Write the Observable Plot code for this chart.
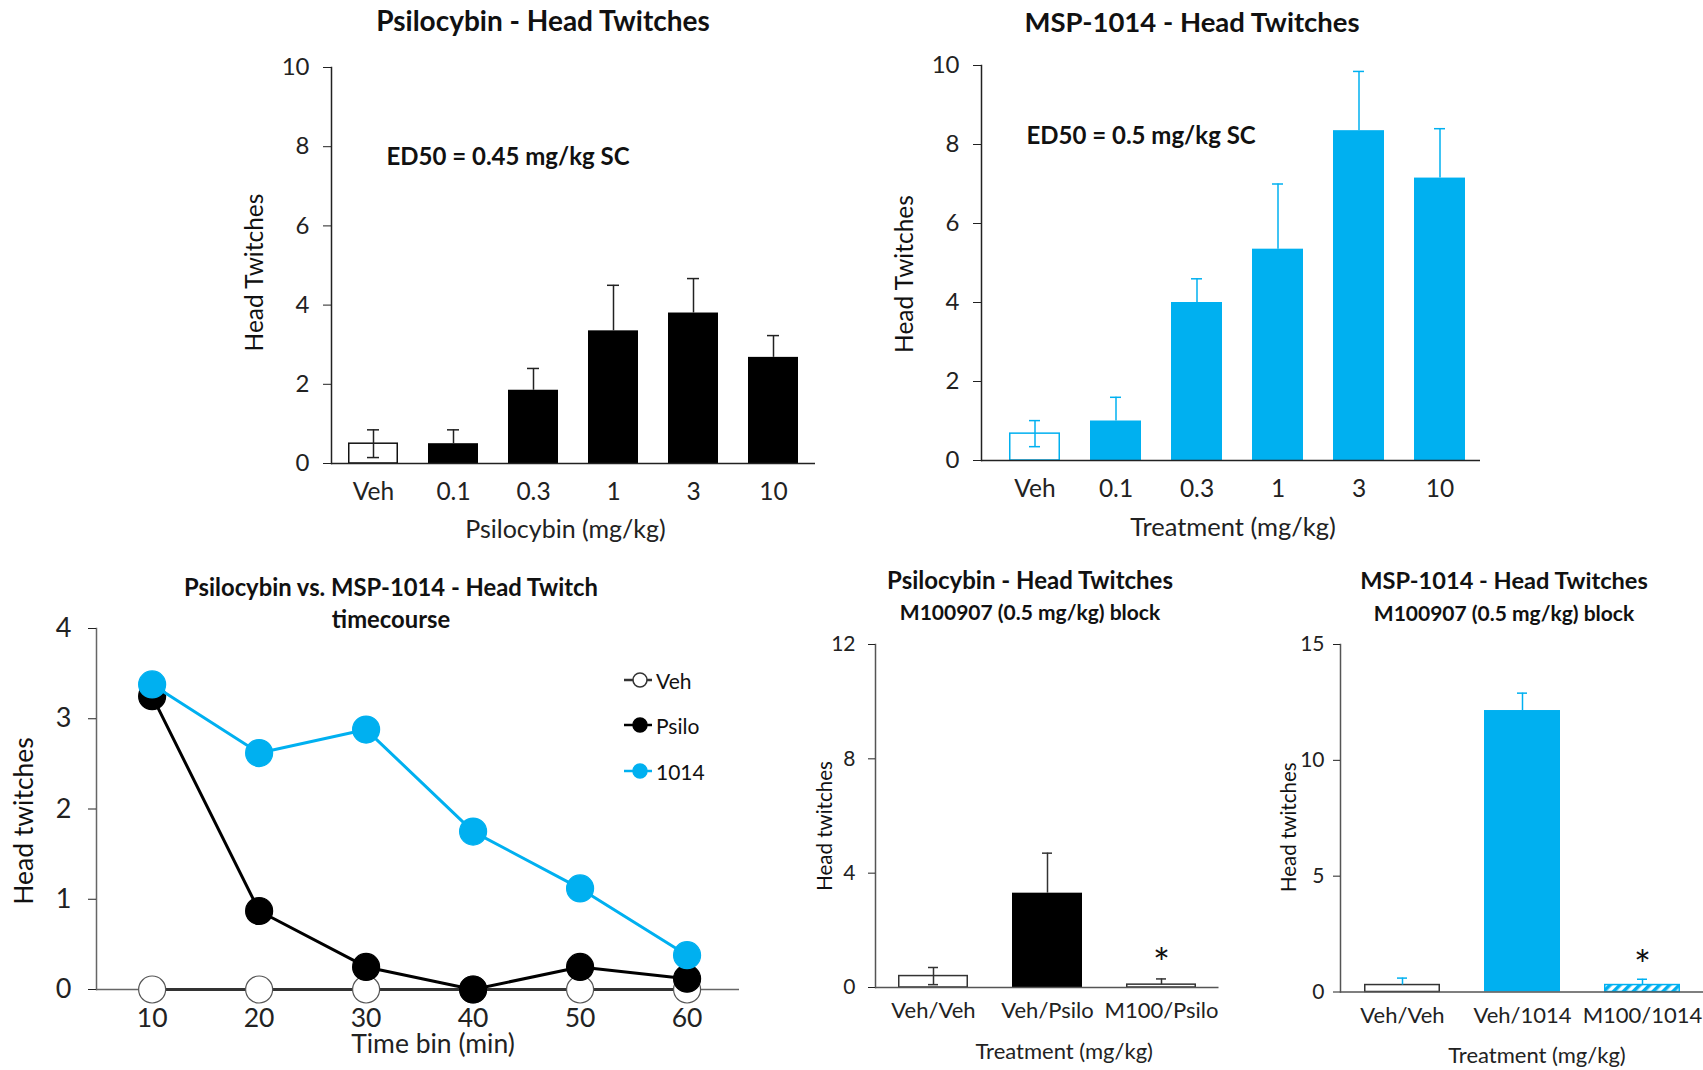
<!DOCTYPE html>
<html><head><meta charset="utf-8">
<script src="https://cdn.jsdelivr.net/npm/d3@7"></script>
<script src="https://cdn.jsdelivr.net/npm/@observablehq/plot@0.6"></script>
<style>
body{margin:0;background:#fff;width:1703px;height:1070px;position:relative;overflow:hidden;font-family:Lato,"Open Sans",sans-serif;color:#111;}
.panel{position:absolute;}
.title{position:absolute;font-weight:bold;white-space:nowrap;transform:translate(-50%,-50%);line-height:1;}
.leg{position:absolute;display:flex;align-items:center;font-size:21px;white-space:nowrap;}
</style></head><body>
<div class="title" style="left:543px;top:20px;font-size:28px">Psilocybin - Head Twitches</div>
<div class="title" style="left:1192px;top:22px;font-size:27.5px">MSP-1014 - Head Twitches</div>
<div class="title" style="left:391px;top:588px;font-size:23.8px">Psilocybin vs. MSP-1014 - Head Twitch</div>
<div class="title" style="left:391px;top:620px;font-size:23.8px">timecourse</div>
<div class="title" style="left:1030px;top:580px;font-size:24px">Psilocybin - Head Twitches</div>
<div class="title" style="left:1030px;top:611px;font-size:21px">M100907 (0.5 mg/kg) block</div>
<div class="title" style="left:1504px;top:581px;font-size:23.6px">MSP-1014 - Head Twitches</div>
<div class="title" style="left:1504px;top:612px;font-size:21px">M100907 (0.5 mg/kg) block</div>
<div id="p1" class="panel" style="left:220px;top:40px"></div>
<div id="p2" class="panel" style="left:860px;top:40px"></div>
<div id="p3" class="panel" style="left:0px;top:600px"></div>
<div id="p4" class="panel" style="left:790px;top:630px"></div>
<div id="p5" class="panel" style="left:1240px;top:630px"></div>
<div id="legend"></div>
<script>
// ---------- data ----------
const doseCategories = ["Veh", "0.1", "0.3", "1", "3", "10"];
const psiloMeans = [0.5, 0.5, 1.85, 3.35, 3.8, 2.68];
const psiloSem = [0.35, 0.35, 0.55, 1.15, 0.87, 0.55];
const msp1014Means = [0.68, 1.0, 4.0, 5.35, 8.35, 7.15];
const msp1014Sem = [0.33, 0.6, 0.6, 1.65, 1.5, 1.25];

const timeBins = [10, 20, 30, 40, 50, 60];
const tcVeh = [0, 0, 0, 0, 0, 0];
const tcPsilo = [3.25, 0.87, 0.25, 0, 0.25, 0.12];
const tc1014 = [3.38, 2.62, 2.88, 1.75, 1.12, 0.38];
const tcSeries = ["Veh", "Psilo", "1014"];

const psiloBlockCats = ["Veh/Veh", "Veh/Psilo", "M100/Psilo"];
const psiloBlockMeans = [0.4, 3.3, 0.1];
const psiloBlockSem = [0.3, 1.4, 0.2];
const psiloBlockSig = ["", "", "*"];

const mspBlockCats = ["Veh/Veh", "Veh/1014", "M100/1014"];
const mspBlockMeans = [0.3, 12.15, 0.3];
const mspBlockSem = [0.3, 0.75, 0.25];
const mspBlockSig = ["", "", "*"];

// ---------- style ----------
const BLUE = "#00B0F0";
const FONT = "Lato, 'Open Sans', sans-serif";

function rows(cats, means, sem, twoSided, sig) {
  return cats.map((c, i) => ({
    cat: c, mean: means[i],
    hi: means[i] + sem[i],
    lo: twoSided(c, i) ? means[i] - sem[i] : means[i],
    sig: sig ? sig[i] : ""
  }));
}

// ---------- Panel 1: Psilocybin dose response ----------
{
  const data = rows(doseCategories, psiloMeans, psiloSem, c => c === "Veh");
  const p = Plot.plot({
    width: 620, height: 520,
    marginLeft: 111, marginRight: 25, marginTop: 27, marginBottom: 97,
    style: {fontFamily: FONT, background: "transparent", overflow: "visible"},
    x: {domain: doseCategories, paddingInner: 0.377, paddingOuter: 0.206, axis: null},
    y: {domain: [0, 10], axis: null},
    marks: [
      Plot.barY(data, {x: "cat", y: "mean", filter: d => d.cat === "Veh", fill: "white", stroke: "#111", strokeWidth: 1.5, insetLeft: 0.75, insetRight: 0.75}),
      Plot.barY(data, {x: "cat", y: "mean", filter: d => d.cat !== "Veh", fill: "black"}),
      Plot.ruleX(data, {x: "cat", y1: "lo", y2: "hi", stroke: "#222", strokeWidth: 1.5}),
      Plot.tickY(data, {x: "cat", y: "hi", stroke: "#222", strokeWidth: 1.5, insetLeft: 19, insetRight: 19}),
      Plot.tickY(data, {x: "cat", y: "lo", filter: d => d.lo < d.mean, stroke: "#222", strokeWidth: 1.5, insetLeft: 19, insetRight: 19}),
      Plot.ruleY([0], {stroke: "#222", strokeWidth: 1.5}),
      Plot.frame({anchor: "left", stroke: "#222", strokeWidth: 1.5}),
      Plot.axisY({ticks: [0, 2, 4, 6, 8, 10], tickSize: 8, tickPadding: 14, fontSize: 24, color: "#222", label: null}),
      Plot.axisX({tickSize: 0, tickPadding: 19, fontSize: 24.5, color: "#222", label: null}),
      Plot.text(["Head Twitches"], {frameAnchor: "left", textAnchor: "middle", lineAnchor: "middle", rotate: -90, dx: -76, dy: 7, fontSize: 24.5, fill: "#111"}),
      Plot.text(["Psilocybin (mg/kg)"], {frameAnchor: "bottom", textAnchor: "middle", lineAnchor: "middle", dx: -8, dy: 66, fontSize: 25, fill: "#222"}),
      Plot.text(["ED50 = 0.45 mg/kg SC"], {frameAnchor: "top-left", textAnchor: "start", lineAnchor: "middle", dx: 55, dy: 90, fontSize: 24, fontWeight: "bold", fill: "#111"})
    ]
  });
  document.getElementById("p1").append(p);
}

// ---------- Panel 2: MSP-1014 dose response ----------
{
  const data = rows(doseCategories, msp1014Means, msp1014Sem, c => c === "Veh");
  const p = Plot.plot({
    width: 640, height: 520,
    marginLeft: 121, marginRight: 20, marginTop: 25, marginBottom: 100,
    style: {fontFamily: FONT, background: "transparent", overflow: "visible"},
    x: {domain: doseCategories, paddingInner: 0.376, paddingOuter: 0.246, align: 0.634, axis: null},
    y: {domain: [0, 10], axis: null},
    marks: [
      Plot.barY(data, {x: "cat", y: "mean", filter: d => d.cat === "Veh", fill: "white", stroke: BLUE, strokeWidth: 1.5, insetLeft: 0.75, insetRight: 0.75}),
      Plot.barY(data, {x: "cat", y: "mean", filter: d => d.cat !== "Veh", fill: BLUE}),
      Plot.ruleX(data, {x: "cat", y1: "lo", y2: "hi", stroke: BLUE, strokeWidth: 1.5}),
      Plot.tickY(data, {x: "cat", y: "hi", stroke: BLUE, strokeWidth: 1.5, insetLeft: 20, insetRight: 20}),
      Plot.tickY(data, {x: "cat", y: "lo", filter: d => d.lo < d.mean, stroke: BLUE, strokeWidth: 1.5, insetLeft: 20, insetRight: 20}),
      Plot.ruleY([0], {stroke: "#222", strokeWidth: 1.5}),
      Plot.frame({anchor: "left", stroke: "#222", strokeWidth: 1.5}),
      Plot.axisY({ticks: [0, 2, 4, 6, 8, 10], tickSize: 8, tickPadding: 14, fontSize: 24, color: "#222", label: null}),
      Plot.axisX({tickSize: 0, tickPadding: 19, fontSize: 24.5, color: "#222", label: null}),
      Plot.text(["Head Twitches"], {frameAnchor: "left", textAnchor: "middle", lineAnchor: "middle", rotate: -90, dx: -76, dy: 11, fontSize: 24.5, fill: "#111"}),
      Plot.text(["Treatment (mg/kg)"], {frameAnchor: "bottom", textAnchor: "middle", lineAnchor: "middle", dx: 2, dy: 67, fontSize: 25.5, fill: "#222"}),
      Plot.text(["ED50 = 0.5 mg/kg SC"], {frameAnchor: "top-left", textAnchor: "start", lineAnchor: "middle", dx: 45, dy: 71, fontSize: 24, fontWeight: "bold", fill: "#111"})
    ]
  });
  document.getElementById("p2").append(p);
}

// ---------- Panel 3: time course ----------
const strokeOf = {Veh: "#333", Psilo: "#000", "1014": BLUE};
const fillOf = {Veh: "white", Psilo: "#000", "1014": BLUE};
{
  const values = {Veh: tcVeh, Psilo: tcPsilo, "1014": tc1014};
  const data = tcSeries.flatMap(s => timeBins.map((t, i) => ({series: s, t, v: values[s][i]})));
  const marks = [
    Plot.frame({anchor: "left", stroke: "#666", strokeWidth: 1.5}),
    Plot.ruleY([0], {stroke: "#666", strokeWidth: 1.5}),
    Plot.axisY({ticks: [0, 1, 2, 3, 4], tickFormat: d3.format("d"), tickSize: 8, tickPadding: 17, fontSize: 27, color: "#222", label: null}),
    Plot.axisX({ticks: timeBins, tickFormat: d3.format("d"), tickSize: 0, tickPadding: 19, fontSize: 26.5, color: "#222", label: null}),
    Plot.text(["Head twitches"], {frameAnchor: "left", textAnchor: "middle", lineAnchor: "middle", rotate: -90, dx: -72, dy: 12, fontSize: 26.5, fill: "#111"}),
    Plot.text(["Time bin (min)"], {frameAnchor: "bottom", textAnchor: "middle", lineAnchor: "middle", dx: 15, dy: 55, fontSize: 26.5, fill: "#222"})
  ];
  for (const s of tcSeries) {
    const sd = data.filter(d => d.series === s);
    marks.push(Plot.line(sd, {x: "t", y: "v", stroke: strokeOf[s], strokeWidth: 3}));
    marks.push(Plot.dot(sd, {x: "t", y: "v", r: 13.5, fill: fillOf[s], stroke: s === "Veh" ? "#555" : fillOf[s], strokeWidth: 1.2}));
  }
  const p = Plot.plot({
    width: 760, height: 470,
    marginLeft: 96, marginRight: 21, marginTop: 28, marginBottom: 81,
    style: {fontFamily: FONT, background: "transparent", overflow: "visible"},
    x: {domain: [4.8, 64.9], axis: null},
    y: {domain: [0, 4], axis: null},
    marks
  });
  document.getElementById("p3").append(p);

  // legend
  const legendTop = [680, 725, 771];
  const lg = document.getElementById("legend");
  tcSeries.forEach((s, i) => {
    const div = document.createElement("div");
    div.className = "leg";
    div.style.left = "624px";
    div.style.top = (legendTop[i] - 13) + "px";
    div.innerHTML = `<svg width="30" height="26" style="display:block"><line x1="0" x2="28" y1="13" y2="13" stroke="${strokeOf[s]}" stroke-width="2.5"/><circle cx="16" cy="13" r="7" fill="${fillOf[s]}" stroke="${s === "Veh" ? "#333" : fillOf[s]}" stroke-width="1.5"/></svg><span style="margin-left:2px">${s}</span>`;
    lg.append(div);
  });
}

// ---------- Panel 4: Psilocybin + M100907 block ----------
{
  const data = rows(psiloBlockCats, psiloBlockMeans, psiloBlockSem, (c, i) => i === 0, psiloBlockSig);
  const p = Plot.plot({
    width: 440, height: 440,
    marginLeft: 85, marginRight: 11.5, marginTop: 14, marginBottom: 83,
    style: {fontFamily: FONT, background: "transparent", overflow: "visible"},
    x: {domain: psiloBlockCats, paddingInner: 0.39, paddingOuter: 0.2, axis: null},
    y: {domain: [0, 12], axis: null},
    marks: [
      Plot.barY(data, {x: "cat", y: "mean", filter: d => d.cat !== "Veh/Psilo", fill: "white", stroke: "#333", strokeWidth: 1.5, insetLeft: 0.75, insetRight: 0.75}),
      Plot.barY(data, {x: "cat", y: "mean", filter: d => d.cat === "Veh/Psilo", fill: "black"}),
      Plot.ruleX(data, {x: "cat", y1: "lo", y2: "hi", stroke: "#333", strokeWidth: 1.5}),
      Plot.tickY(data, {x: "cat", y: "hi", stroke: "#333", strokeWidth: 1.5, insetLeft: 30, insetRight: 30}),
      Plot.tickY(data, {x: "cat", y: "lo", filter: d => d.lo < d.mean, stroke: "#333", strokeWidth: 1.5, insetLeft: 30, insetRight: 30}),
      Plot.text(data, {x: "cat", y: "hi", text: "sig", dy: -14, fontSize: 40, fill: "#111"}),
      Plot.ruleY([0], {stroke: "#555", strokeWidth: 1.5}),
      Plot.frame({anchor: "left", stroke: "#555", strokeWidth: 1.5}),
      Plot.axisY({ticks: [0, 4, 8, 12], tickSize: 7, tickPadding: 13, fontSize: 21, color: "#222", label: null}),
      Plot.axisX({tickSize: 0, tickPadding: 15, fontSize: 22, color: "#222", label: null}),
      Plot.text(["Head twitches"], {frameAnchor: "left", textAnchor: "middle", lineAnchor: "middle", rotate: -90, dx: -50, dy: 10, fontSize: 20.5, fill: "#111"}),
      Plot.text(["Treatment (mg/kg)"], {frameAnchor: "bottom", textAnchor: "middle", lineAnchor: "middle", dx: 17, dy: 64, fontSize: 22, fill: "#222"})
    ]
  });
  document.getElementById("p4").append(p);
}

// ---------- Panel 5: MSP-1014 + M100907 block ----------
{
  const data = rows(mspBlockCats, mspBlockMeans, mspBlockSem, () => false, mspBlockSig);
  const p = Plot.plot({
    width: 463, height: 440,
    marginLeft: 100, marginRight: 0, marginTop: 14, marginBottom: 78.5,
    style: {fontFamily: FONT, background: "transparent", overflow: "visible"},
    x: {domain: mspBlockCats, paddingInner: 0.37, paddingOuter: 0.19, axis: null},
    y: {domain: [0, 15], axis: null},
    marks: [
      Plot.barY(data, {x: "cat", y: "mean", filter: d => d.cat === "Veh/Veh", fill: "white", stroke: "#333", strokeWidth: 1.5, insetLeft: 0.75, insetRight: 0.75}),
      Plot.barY(data, {x: "cat", y: "mean", filter: d => d.cat === "Veh/1014", fill: BLUE}),
      Plot.barY(data, {x: "cat", y: "mean", filter: d => d.cat === "M100/1014", fill: "url(#hatch1014)", stroke: BLUE, strokeWidth: 1.5, insetLeft: 0.75, insetRight: 0.75}),
      Plot.ruleX(data, {x: "cat", y1: "lo", y2: "hi", stroke: BLUE, strokeWidth: 1.5}),
      Plot.tickY(data, {x: "cat", y: "hi", stroke: BLUE, strokeWidth: 1.5, insetLeft: 33, insetRight: 33}),
      Plot.text(data, {x: "cat", y: "hi", text: "sig", dy: -12, fontSize: 40, fill: "#111"}),
      Plot.ruleY([0], {stroke: "#555", strokeWidth: 1.5}),
      Plot.frame({anchor: "left", stroke: "#555", strokeWidth: 1.5}),
      Plot.axisY({ticks: [0, 5, 10, 15], tickSize: 7, tickPadding: 9, fontSize: 21, color: "#222", label: null}),
      Plot.axisX({tickSize: 0, tickPadding: 15, fontSize: 22, color: "#222", label: null}),
      Plot.text(["Head twitches"], {frameAnchor: "left", textAnchor: "middle", lineAnchor: "middle", rotate: -90, dx: -51, dy: 9, fontSize: 20.5, fill: "#111"}),
      Plot.text(["Treatment (mg/kg)"], {frameAnchor: "bottom", textAnchor: "middle", lineAnchor: "middle", dx: 15, dy: 64, fontSize: 22, fill: "#222"})
    ]
  });
  const ns = "http://www.w3.org/2000/svg";
  const defs = document.createElementNS(ns, "defs");
  defs.innerHTML = `<pattern id="hatch1014" patternUnits="userSpaceOnUse" width="7" height="7" patternTransform="rotate(45)"><rect width="7" height="7" fill="white"/><rect width="3.5" height="7" fill="${BLUE}"/></pattern>`;
  p.insertBefore(defs, p.firstChild);
  document.getElementById("p5").append(p);
}
</script>
</body></html>
